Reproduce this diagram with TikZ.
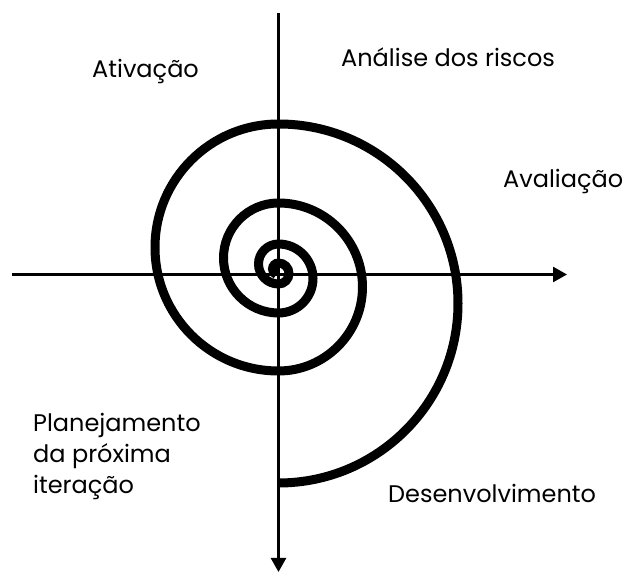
\documentclass[tikz,border=0pt]{standalone}
\usepackage{fontspec}
\setmainfont{Poppins}
\usetikzlibrary{arrows.meta}
\tikzset{
  axis/.style={line width=2.6pt,-{Triangle[length=14pt,width=15pt]}},
  spiral/.style={line width=9pt},
  lbl/.style={inner sep=0pt,anchor=base west,font=\fontsize{24}{28}\selectfont}
}
\begin{document}
\begin{tikzpicture}[x=1pt,y=1pt]
\useasboundingbox (0,0) rectangle (630,572);
\coordinate (vtop) at (278.5,559);
\coordinate (vbot) at (278.5,0);
\coordinate (hleft) at (12,297.5);
\coordinate (hright) at (567,297.5);
\draw[axis] (vtop) -- (vbot);
\draw[axis] (hleft) -- (hright);
\coordinate (sstart) at (278.5,89);
\draw[spiral] (sstart)
  arc[start angle=-90,end angle=90,radius=179.5]
  arc[start angle=90,end angle=270,radius=123.5]
  arc[start angle=-90,end angle=90,radius=84]
  arc[start angle=90,end angle=270,radius=55]
  arc[start angle=-90,end angle=90,radius=34.5]
  arc[start angle=90,end angle=270,radius=20]
  arc[start angle=-90,end angle=90,radius=10.5]
  arc[start angle=90,end angle=250,radius=6];
\node[lbl] (ativ) at (92,494) {Ativação};
\node[lbl] (anal) at (341,505) {Análise dos riscos};
\node[lbl] (aval) at (503,384) {Avaliação};
\node[lbl] (desv) at (388,69) {Desenvolvimento};
\node[lbl] (plan1) at (33,140) {Planejamento};
\node[lbl] (plan2) at (33,109) {da próxima};
\node[lbl] (plan3) at (33,78) {iteração};
\end{tikzpicture}
\end{document}
